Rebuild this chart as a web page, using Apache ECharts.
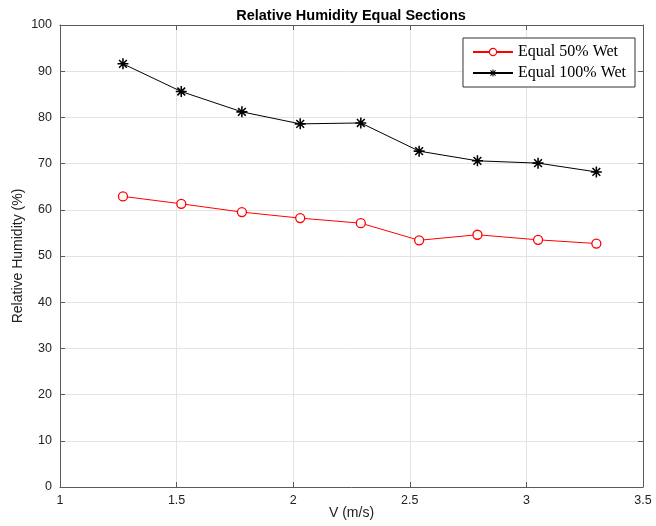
<!DOCTYPE html>
<html><head><meta charset="utf-8">
<script src="https://cdn.jsdelivr.net/npm/echarts@6/dist/echarts.min.js"></script>
<style>html,body{margin:0;padding:0;background:#fff}#c{width:656px;height:526px}</style>
</head><body><div id="c"></div>
<script>
var velocity = [1.27, 1.52, 1.78, 2.03, 2.29, 2.54, 2.79, 3.05, 3.30];
var wet50 = [62.9, 61.3, 59.5, 58.2, 57.1, 53.4, 54.6, 53.5, 52.7];
var wet100 = [91.6, 85.6, 81.2, 78.6, 78.8, 72.7, 70.6, 70.1, 68.2];
var seriesNames = ['Equal 50% Wet', 'Equal 100% Wet'];
var titleText = 'Relative Humidity Equal Sections';
var xName = 'V (m/s)';
var yName = 'Relative Humidity (%)';

var asterisk = 'path://M-1.4,-10L1.4,-10L1.4,10L-1.4,10Z M-10,-1.4L10,-1.4L10,1.4L-10,1.4Z M-8.06,-6.08L-6.08,-8.06L8.06,6.08L6.08,8.06Z M6.08,-8.06L8.06,-6.08L-6.08,8.06L-8.06,6.08Z';
function pairs(xs, ys){ return xs.map(function(x,i){return [x, ys[i]];}); }

var font = 'Liberation Sans, Arial, sans-serif';
var axisLineColor = '#5a5a5a';
var chart = echarts.init(document.getElementById('c'), null, {renderer:'canvas'});
chart.setOption({
  animation:false,
  title:{text:titleText,left:346,top:3,textAlign:'center',textStyle:{fontFamily:font,fontSize:14.5,fontWeight:'bold',color:'#000'}},
  grid:{left:60,right:13,top:25,bottom:39,show:false},
  legend:{
    data:[{name:seriesNames[0],itemStyle:{borderWidth:1.2}},{name:seriesNames[1]}], top:38, right:21, orient:'vertical',
    backgroundColor:'#fff', borderColor:'#333', borderWidth:1, borderRadius:0,
    padding:[6,9,6,9], itemGap:5, itemWidth:40, itemHeight:9,
    textStyle:{fontFamily:'Liberation Serif, Times New Roman, serif',fontSize:16,color:'#000'}
  },
  xAxis:[{
    type:'value', min:1, max:3.5, interval:0.5, name:xName, nameLocation:'middle', nameGap:19,
    nameMoveOverlap:false,
    nameTextStyle:{fontFamily:font,fontSize:14,color:'#222'},
    axisLine:{show:true,onZero:false,lineStyle:{color:axisLineColor}},
    axisTick:{show:true,inside:true,length:5,lineStyle:{color:axisLineColor}},
    axisLabel:{fontFamily:font,fontSize:12.5,color:'#222',margin:7},
    splitLine:{show:true,lineStyle:{color:'#e3e3e3'}}
  },{
    type:'value', min:1, max:3.5, interval:0.5, position:'top',
    axisLine:{show:true,onZero:false,lineStyle:{color:axisLineColor}},
    axisTick:{show:true,inside:true,length:5,lineStyle:{color:axisLineColor}},
    axisLabel:{show:false}, splitLine:{show:false}
  }],
  yAxis:[{
    type:'value', min:0, max:100, interval:10, name:yName, nameLocation:'middle', nameGap:35,
    nameMoveOverlap:false,
    nameTextStyle:{fontFamily:font,fontSize:14,color:'#222'},
    axisLine:{show:true,onZero:false,lineStyle:{color:axisLineColor}},
    axisTick:{show:true,inside:true,length:5,lineStyle:{color:axisLineColor}},
    axisLabel:{fontFamily:font,fontSize:12.5,color:'#222',margin:8},
    splitLine:{show:true,lineStyle:{color:'#e3e3e3'}}
  },{
    type:'value', min:0, max:100, interval:10, position:'right',
    axisLine:{show:true,onZero:false,lineStyle:{color:axisLineColor}},
    axisTick:{show:true,inside:true,length:5,lineStyle:{color:axisLineColor}},
    axisLabel:{show:false}, splitLine:{show:false}
  }],
  series:[{
    name:seriesNames[0], type:'line', data:pairs(velocity, wet50),
    symbol:'circle', symbolSize:9, showAllSymbol:true,
    lineStyle:{color:'#ff0000',width:1},
    itemStyle:{color:'#fff',borderColor:'#ff0000',borderWidth:1.3}
  },{
    name:seriesNames[1], type:'line', data:pairs(velocity, wet100),
    symbol:asterisk, symbolSize:11, showAllSymbol:true,
    lineStyle:{color:'#000',width:1},
    itemStyle:{color:'#000'}
  }]
});
</script></body></html>
